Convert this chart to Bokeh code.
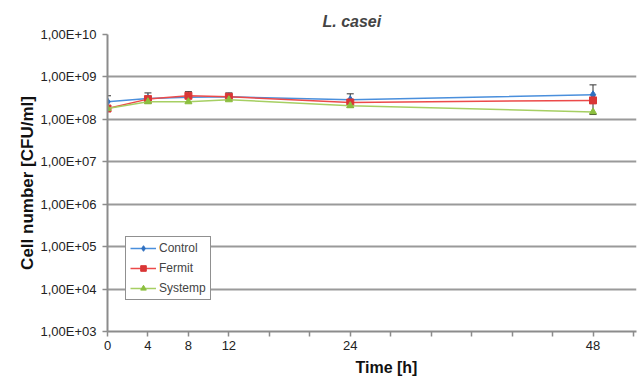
from bokeh.plotting import figure
from bokeh.models import (FixedTicker, Legend, LegendItem, Whisker, ColumnDataSource, TeeHead, Title)
from bokeh.embed import file_html
from bokeh.resources import INLINE

hours = [0, 4, 8, 12, 24, 48]
control = [2.6e8, 3.1e8, 3.3e8, 3.4e8, 2.9e8, 3.8e8]
fermit = [1.8e8, 3.0e8, 3.6e8, 3.4e8, 2.5e8, 2.8e8]
systemp = [1.8e8, 2.6e8, 2.6e8, 2.9e8, 2.1e8, 1.5e8]
err_upper = [3.6e8, 4.2e8, 4.5e8, 4.2e8, 4.0e8, 6.5e8]
err_lower = [1.7e8, 2.4e8, 2.6e8, 2.8e8, 1.9e8, 1.3e8]
y_ticks = [1e3, 1e4, 1e5, 1e6, 1e7, 1e8, 1e9, 1e10]
y_labels = ["1,00E+03", "1,00E+04", "1,00E+05", "1,00E+06", "1,00E+07", "1,00E+08", "1,00E+09", "1,00E+10"]
x_ticks = list(range(0, 53, 4))
x_labels = ["0", "4", "8", "12", "24", "48"]

FONT = "Liberation Sans"

p = figure(width=638, height=383, y_axis_type="log", x_range=(0, 52.3), y_range=(1e3, 1e10),
           output_backend="svg", toolbar_location=None,
           min_border_left=107, min_border_right=2, min_border_top=34, min_border_bottom=52)
p.outline_line_color = None
p.background_fill_color = "white"

p.title.text = "L. casei"
p.title.align = "left"
p.title.text_font = FONT
p.title.text_font_style = "bold italic"
p.title.text_font_size = "16px"
p.title.offset = 215
p.title.standoff = 9

# axes
p.yaxis.ticker = FixedTicker(ticks=y_ticks)
p.yaxis.major_label_overrides = {t: l for t, l in zip(y_ticks, y_labels)}
p.yaxis.minor_tick_line_color = None
p.xaxis.ticker = FixedTicker(ticks=x_ticks)
p.xaxis.major_label_overrides = {t: (str(t) if str(t) in x_labels else "") for t in x_ticks}
p.xaxis.minor_tick_line_color = None
for ax in (p.xaxis, p.yaxis):
    ax.axis_line_color = "#8c8c8c"
    ax.axis_line_width = 2
    ax.major_tick_line_color = "#8c8c8c"
    ax.major_tick_line_width = 1.5
    ax.major_tick_in = 0
    ax.major_tick_out = 5
    ax.major_label_text_font = FONT
    ax.major_label_text_font_size = "13px"
    ax.major_label_text_color = "#222222"
    ax.axis_label_text_font = FONT
    ax.axis_label_text_font_style = "bold"
    ax.axis_label_text_font_size = "17px"
    ax.axis_label_text_color = "#111111"
p.yaxis.axis_label = "Cell number [CFU/ml]"
p.yaxis.major_label_standoff = 6
p.yaxis.axis_label_standoff = 0
p.xaxis.major_label_standoff = 4

p.add_layout(Title(text="Time [h]", align="left", offset=248, text_font=FONT, text_font_style="bold",
                   text_font_size="16px", text_color="#111111", standoff=8), "below")

p.xgrid.grid_line_color = None
p.ygrid.grid_line_color = "#9a9a9a"
p.ygrid.grid_line_width = 2

# error bars
src = ColumnDataSource(dict(x=hours, upper=err_upper, lower=err_lower))
w = Whisker(source=src, base="x", upper="upper", lower="lower", line_color="#333333", line_width=1,
            upper_head=TeeHead(size=7, line_color="#333333"), lower_head=TeeHead(size=7, line_color="#333333"))
p.add_layout(w)

c_line = p.line(hours, control, line_color="#4a8fdc", line_width=1.5)
c_pts = p.scatter(hours, control, marker="diamond", size=8, fill_color="#2f6fbf", line_color="#2f6fbf")
f_line = p.line(hours, fermit, line_color="#ec4a4a", line_width=1.5)
f_pts = p.scatter(hours, fermit, marker="square", size=7, fill_color="#d93636", line_color="#d93636")
s_line = p.line(hours, systemp, line_color="#a6cf63", line_width=1.5)
s_pts = p.scatter(hours, systemp, marker="triangle", size=7, fill_color="#8cbf3f", line_color="#8cbf3f")

legend = Legend(items=[LegendItem(label="Control", renderers=[c_line, c_pts]),
                       LegendItem(label="Fermit", renderers=[f_line, f_pts]),
                       LegendItem(label="Systemp", renderers=[s_line, s_pts])],
                location=(18, 31), border_line_color="#222222", border_line_width=1,
                label_text_font=FONT, label_text_font_size="12px", glyph_width=26, glyph_height=14,
                spacing=6, padding=4, margin=0, label_standoff=3, background_fill_alpha=1)
p.add_layout(legend, "center")

open("out.html", "w").write(file_html(p, INLINE))
